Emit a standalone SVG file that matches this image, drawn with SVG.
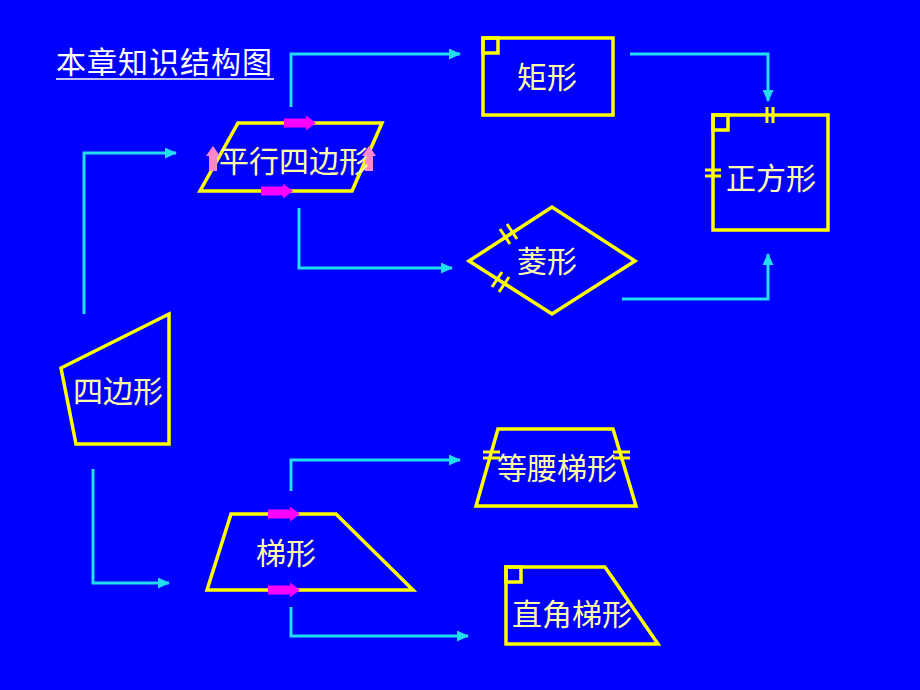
<svg xmlns="http://www.w3.org/2000/svg" width="920" height="690" viewBox="0 0 920 690">
<defs>
<style>
.shape{fill:none;stroke:#FFFF00;stroke-width:3.5;stroke-linejoin:miter}
.tick{stroke:#FFFF00;stroke-width:3}
.conn{fill:none;stroke:#22DDEE;stroke-width:3;marker-end:url(#ah)}
.lbl{font-family:"Liberation Sans","Noto Sans CJK SC",sans-serif;font-size:30px;fill:#FFFFA8;text-anchor:middle}
.title{font-family:"Liberation Sans","Noto Sans CJK SC",sans-serif;font-size:30px;fill:#FFFFFF}
</style>
<marker id="ah" markerWidth="13" markerHeight="11" refX="11" refY="5.5" orient="auto" markerUnits="userSpaceOnUse">
<path d="M0,0 L12,5.5 L0,11 Z" fill="#22DDEE"/>
</marker>
<path id="barrow" d="M0,-4.5 H22 V-7.5 L32,0 L22,7.5 V4.5 H0 Z"/>
<path id="uparrow" d="M-4,0 V-15 H-7 L0,-25 L7,-15 H4 V0 Z"/>
</defs>
<rect width="920" height="690" fill="#0000FF"/>

<g id="title">
<text class="title" x="56" y="73" textLength="216" lengthAdjust="spacing">本章知识结构图</text>
<line x1="56" y1="79" x2="274" y2="79" stroke="#FFFFFF" stroke-width="1.5"/>
</g>

<g id="connectors">
<polyline class="conn" points="291,107 291,54 460,54"/>
<polyline class="conn" points="630,54 768,54 768,101"/>
<polyline class="conn" points="299,208 299,268 452,268"/>
<polyline class="conn" points="622,299 768,299 768,254"/>
<polyline class="conn" points="84,314 84,153 176,153"/>
<polyline class="conn" points="93,469 93,583 169,583"/>
<polyline class="conn" points="291,491 291,460 460,460"/>
<polyline class="conn" points="291,607 291,636 468,636"/>
</g>

<g id="parallelogram">
<polygon class="shape" points="238,123 382,123 352,191 200,191"/>
<use href="#barrow" x="284" y="123" fill="#FF00FF"/>
<use href="#barrow" x="261" y="191" fill="#FF00FF"/>
<use href="#uparrow" x="213" y="171" fill="#FF88CC"/>
<use href="#uparrow" x="369" y="171" fill="#FF88CC"/>
<text class="lbl" x="294" y="172">平行四边形</text>
</g>

<g id="rectangle">
<rect class="shape" x="483" y="38" width="130" height="77"/>
<rect class="shape" x="483" y="38" width="15" height="15"/>
<text class="lbl" x="547" y="88">矩形</text>
</g>

<g id="square">
<rect class="shape" x="713" y="115" width="115" height="115"/>
<rect class="shape" x="713" y="115" width="15" height="15"/>
<line class="tick" x1="767" y1="107" x2="767" y2="123"/>
<line class="tick" x1="773" y1="107" x2="773" y2="123"/>
<line class="tick" x1="705" y1="170" x2="721" y2="170"/>
<line class="tick" x1="705" y1="176" x2="721" y2="176"/>
<text class="lbl" x="771" y="189">正方形</text>
</g>

<g id="rhombus">
<polygon class="shape" points="469,261 552,207 635,261 552,314"/>
<line class="tick" x1="500" y1="229" x2="510" y2="244"/>
<line class="tick" x1="507" y1="224" x2="517" y2="239"/>
<line class="tick" x1="492" y1="287" x2="502" y2="272"/>
<line class="tick" x1="499" y1="292" x2="509" y2="277"/>
<text class="lbl" x="547" y="272">菱形</text>
</g>

<g id="quadrilateral">
<polygon class="shape" points="61,368 169,314 169,444 76,444"/>
<text class="lbl" x="118" y="402">四边形</text>
</g>

<g id="isosceles-trapezoid">
<polygon class="shape" points="498,429 613,429 636,506 476,506"/>
<line class="tick" x1="483" y1="452" x2="500" y2="452"/>
<line class="tick" x1="483" y1="458" x2="500" y2="458"/>
<line class="tick" x1="613" y1="452" x2="630" y2="452"/>
<line class="tick" x1="613" y1="458" x2="630" y2="458"/>
<text class="lbl" x="557" y="479">等腰梯形</text>
</g>

<g id="trapezoid">
<polygon class="shape" points="231,514 336,514 413,590 207,590"/>
<use href="#barrow" x="268" y="514" fill="#FF00FF"/>
<use href="#barrow" x="268" y="590" fill="#FF00FF"/>
<text class="lbl" x="286" y="564">梯形</text>
</g>

<g id="right-trapezoid">
<polygon class="shape" points="506,567 605,567 658,644 506,644"/>
<rect class="shape" x="506" y="567" width="15" height="15"/>
<text class="lbl" x="572" y="625">直角梯形</text>
</g>
</svg>
